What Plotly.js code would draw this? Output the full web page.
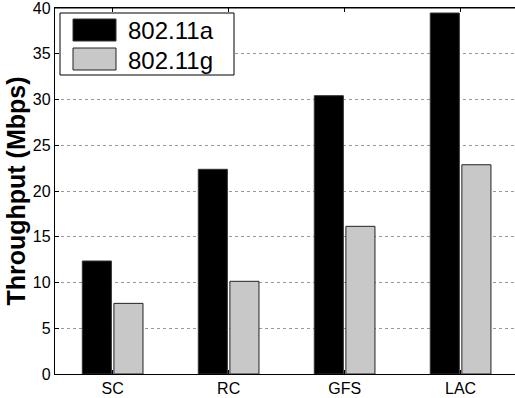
<!DOCTYPE html>
<html>
<head>
<meta charset="utf-8">
<script src="https://cdn.plot.ly/plotly-3.0.1.min.js"></script>
<style>html,body{margin:0;padding:0;background:#fff}#chart{width:515px;height:398px}</style>
</head>
<body>
<div id="chart"></div>
<script>
var categories = ["SC", "RC", "GFS", "LAC"];
var seriesNames = ["802.11a", "802.11g"];
var valuesA = [12.35, 22.37, 30.42, 39.45];
var valuesG = [7.72, 10.13, 16.14, 22.87];
var yTickVals = [0, 5, 10, 15, 20, 25, 30, 35, 40];

var W = 515, H = 398;
var L = 55, R = 0, T = 8, B = 24;
var pw = W - L - R, ph = H - T - B;
function px(x) { return (x - L) / pw; }
function py(y) { return (H - B - y) / ph; }

var FONT = "Liberation Sans, Arial, Helvetica, sans-serif";
var colA = "#000000", colG = "#c8c8c8";

var traces = [
  {type: "bar", name: seriesNames[0], x: categories, y: valuesA,
   marker: {color: colA, line: {color: "#333333", width: 1}}, showlegend: false},
  {type: "bar", name: seriesNames[1], x: categories, y: valuesG,
   marker: {color: colG, line: {color: "#222222", width: 1}}, showlegend: false}
];

var shapes = [
  {type: "line", xref: "paper", yref: "paper", x0: 0, x1: 1, y0: 1, y1: 1,
   line: {color: "#000", width: 1.2}, layer: "above"},
  {type: "rect", xref: "paper", yref: "paper", x0: px(60), x1: px(234), y0: py(75), y1: py(13),
   line: {color: "#000", width: 1}, fillcolor: "#fff", layer: "above"},
  {type: "rect", xref: "paper", yref: "paper", x0: px(73), x1: px(116), y0: py(41), y1: py(19),
   line: {color: "#333", width: 1}, fillcolor: colA, layer: "above"},
  {type: "rect", xref: "paper", yref: "paper", x0: px(73), x1: px(116), y0: py(70), y1: py(48),
   line: {color: "#222", width: 1}, fillcolor: colG, layer: "above"}
];

var annotations = [
  {xref: "paper", yref: "paper", x: px(126), y: py(31), xanchor: "left", yanchor: "middle",
   text: seriesNames[0], showarrow: false, font: {family: FONT, size: 24, color: "#000"}},
  {xref: "paper", yref: "paper", x: px(126), y: py(60), xanchor: "left", yanchor: "middle",
   text: seriesNames[1], showarrow: false, font: {family: FONT, size: 24, color: "#000"}}
];

var layout = {
  width: W, height: H,
  margin: {l: L, r: R, t: T, b: B, pad: 0},
  paper_bgcolor: "#fff", plot_bgcolor: "#fff",
  font: {family: FONT, color: "#000", size: 16},
  barmode: "group", bargap: 0.455, bargroupgap: 0.08,
  showlegend: false,
  xaxis: {
    type: "category", range: [-0.497, 3.469],
    showline: true, linecolor: "#000", linewidth: 1.2, mirror: "ticks",
    ticks: "inside", ticklen: 4, tickcolor: "#000",
    showgrid: false, zeroline: false,
    tickfont: {family: FONT, size: 16, color: "#000"}
  },
  yaxis: {
    range: [0, 40], tickvals: yTickVals, ticktext: yTickVals.map(String),
    showline: true, linecolor: "#000", linewidth: 1.2,
    ticks: "inside", ticklen: 4, tickcolor: "#000",
    ticklabeloverflow: "allow",
    showgrid: true, gridcolor: "#999", griddash: "dot", gridwidth: 1,
    zeroline: false,
    tickfont: {family: FONT, size: 16, color: "#000"},
    title: {text: "Throughput (Mbps)", font: {family: FONT, size: 25, color: "#000", weight: "bold"}, standoff: 0}
  },
  shapes: shapes,
  annotations: annotations
};

Plotly.newPlot("chart", traces, layout, {staticPlot: true, displayModeBar: false});
</script>
</body>
</html>
